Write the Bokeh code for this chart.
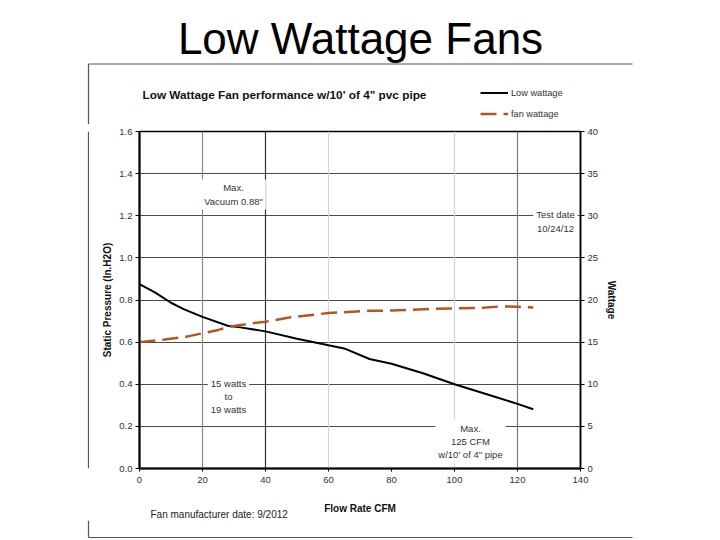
from bokeh.plotting import figure
from bokeh.layouts import column, row
from bokeh.models import (Range1d, LinearAxis, FixedTicker, Grid, Label, Legend,
                          LegendItem, NumeralTickFormatter, Title)
from bokeh.embed import file_html
from bokeh.resources import INLINE

# ---------------- data ----------------
flow_cfm = [0, 5, 10, 14, 20, 28, 32, 40, 50, 60, 65, 73, 80, 90, 100, 110, 120, 125]
static_pressure = [0.875, 0.835, 0.787, 0.757, 0.72, 0.678, 0.67, 0.651, 0.616, 0.585,
                   0.57, 0.52, 0.497, 0.452, 0.40, 0.354, 0.307, 0.281]

watt_cfm = [0, 8, 15, 20, 25, 29, 35, 40, 48, 60, 73, 80, 93, 100, 110, 115, 120, 125]
fan_wattage = [15.0, 15.3, 15.65, 16.05, 16.45, 16.85, 17.2, 17.43, 17.95, 18.45,
               18.72, 18.75, 18.94, 19.0, 19.1, 19.25, 19.2, 19.1]

x_ticks = [0, 20, 40, 60, 80, 100, 120, 140]
pressure_ticks = [0.0, 0.2, 0.4, 0.6, 0.8, 1.0, 1.2, 1.4, 1.6]
watt_ticks = [0, 5, 10, 15, 20, 25, 30, 35, 40]

slide_title = "Low Wattage Fans"
chart_title = "Low Wattage Fan performance w/10' of 4\" pvc pipe"
series_names = ["Low wattage", "fan wattage"]
x_label = "Flow Rate CFM"
y_label = "Static Pressure (In.H2O)"
y2_label = "Wattage"
note_texts = ["Max.\nVacuum 0.88\"", "Test date\n10/24/12", "15 watts\nto\n19 watts",
              "Max.\n125 CFM\nw/10' of 4\" pipe"]
footer = "Fan manufacturer date: 9/2012"

FONT = "Liberation Sans"
TXT = "#333333"
FRAME = "#555555"
BLACK_LINE = dict(line_color="black", line_width=2)
ORANGE_LINE = dict(line_color="#b4561f", line_width=2.5, line_dash="16 7")

# ---------------- page geometry (pixels) ----------------
PAGE_W = 716
HEAD_H = 124          # header band: slide title, chart title, legend
MID_H = 396           # chart band
FOOT_H = 18           # bottom frame line band
STRIP_W = 89          # left frame line strip
MAIN_W = PAGE_W - STRIP_W
PLOT_L, PLOT_R, PLOT_T, PLOT_B = 139, 580, 131, 468   # inner plot frame on the page


def deco_figure(w, h, top):
    """A figure whose frame is the whole canvas, with page-pixel data coordinates."""
    f = figure(width=w, height=h, x_range=Range1d(0, w), y_range=Range1d(top + h, top),
               output_backend="svg", toolbar_location=None,
               x_axis_location=None, y_axis_location=None, min_border=0)
    f.grid.visible = False
    f.outline_line_color = None
    f.background_fill_color = "white"
    f.border_fill_color = "white"
    return f


# ---------------- header ----------------
head = deco_figure(PAGE_W, HEAD_H, 0)
head.add_layout(Label(x=360, y=38, text=slide_title, text_align="center",
                      text_baseline="alphabetic", text_font=FONT, text_font_size="44px",
                      text_color="black"))
head.add_layout(Label(x=142, y=94, text=chart_title, text_align="left",
                      text_baseline="middle", text_font=FONT, text_font_size="11.8px",
                      text_font_style="bold", text_color="#111111"))
# legend keys: the series drawn on a range that keeps them out of sight in the header
head.extra_y_ranges = {"hidden": Range1d(1000, 2000)}
head.extra_x_ranges = {"hidden": Range1d(1000, 2000)}
lg1 = head.line(flow_cfm, static_pressure, x_range_name="hidden", y_range_name="hidden",
                **BLACK_LINE)
lg2 = head.line(watt_cfm, fan_wattage, x_range_name="hidden", y_range_name="hidden",
                **ORANGE_LINE)
head.add_layout(Legend(items=[LegendItem(label=series_names[0], renderers=[lg1]),
                              LegendItem(label=series_names[1], renderers=[lg2])],
                       location=(480, 4), orientation="vertical",
                       label_text_font=FONT, label_text_font_size="9.2px",
                       label_text_color=TXT, glyph_width=28, glyph_height=13, spacing=8,
                       padding=0, margin=0, label_standoff=3, border_line_color=None,
                       background_fill_alpha=0))
head.segment(x0=[88, 88], y0=[63.5, 63.5], x1=[632, 88], y1=[63.5, HEAD_H],
             line_color=FRAME, line_width=1.2)

# ---------------- left strip ----------------
strip = deco_figure(STRIP_W, MID_H, HEAD_H)
strip.segment(x0=[88], y0=[HEAD_H], x1=[88], y1=[HEAD_H + MID_H], line_color=FRAME,
              line_width=1.2)

# ---------------- bottom strip ----------------
foot = deco_figure(PAGE_W, FOOT_H, HEAD_H + MID_H)
foot.segment(x0=[88, 88], y0=[HEAD_H + MID_H, 537], x1=[88, 632], y1=[537, 537],
             line_color=FRAME, line_width=1.2)

# ---------------- main chart ----------------
BL = PLOT_L - STRIP_W
BT = PLOT_T - HEAD_H
FW = PLOT_R - PLOT_L
FH = PLOT_B - PLOT_T
BR = MAIN_W - BL - FW
BB = MID_H - BT - FH
X0, X1 = 0, 140
Y0, Y1 = 0, 1.6


def dx(sx):
    return X0 + (sx - PLOT_L) / FW * (X1 - X0)


def dy(sy):
    return Y0 + (PLOT_B - sy) / FH * (Y1 - Y0)


p = figure(width=MAIN_W, height=MID_H, x_range=Range1d(X0, X1), y_range=Range1d(Y0, Y1),
           output_backend="svg", toolbar_location=None,
           min_border_left=BL, min_border_right=BR, min_border_top=BT, min_border_bottom=BB,
           background_fill_color="white", border_fill_color="white")
p.extra_y_ranges = {"watt": Range1d(0, 40)}
p.outline_line_color = "black"
p.outline_line_width = 1.5

p.xgrid.grid_line_color = None
p.ygrid.ticker = FixedTicker(ticks=pressure_ticks)
p.ygrid.grid_line_color = "#4a4a4a"
p.ygrid.grid_line_width = 1
for tk, col in [(20, "#8a8a8a"), (40, "#333333"), (60, "#d4d4d4"), (100, "#d4d4d4"), (120, "#7a7a7a")]:
    p.add_layout(Grid(dimension=0, ticker=FixedTicker(ticks=[tk]), grid_line_color=col,
                      grid_line_width=1.2))

xa = p.xaxis[0]
xa.ticker = FixedTicker(ticks=x_ticks)
xa.axis_label = x_label
ya = p.yaxis[0]
ya.ticker = FixedTicker(ticks=pressure_ticks)
ya.formatter = NumeralTickFormatter(format="0.0")
ya.axis_label = y_label
ra = LinearAxis(y_range_name="watt", ticker=FixedTicker(ticks=watt_ticks), axis_label=y2_label)
p.add_layout(ra, "right")

for ax in (xa, ya, ra):
    ax.axis_line_color = "black"
    ax.axis_line_width = 2
    ax.major_tick_line_color = "black"
    ax.major_tick_in = 0
    ax.major_tick_out = 4
    ax.minor_tick_line_color = None
    ax.major_label_text_font = FONT
    ax.major_label_text_font_size = "9.5px"
    ax.major_label_text_color = TXT
    ax.major_label_standoff = 3
    ax.axis_label_text_font = FONT
    ax.axis_label_text_font_size = "10px"
    ax.axis_label_text_font_style = "bold"
    ax.axis_label_text_color = "#111111"
xa.major_tick_out = 3
xa.major_label_standoff = 5
xa.axis_label_standoff = 17
ya.axis_label_standoff = 3
ra.axis_label_standoff = 5
ra.axis_line_width = 1.5

p.line(flow_cfm, static_pressure, **BLACK_LINE)
p.line(watt_cfm, fan_wattage, y_range_name="watt", **ORANGE_LINE)

# footer text below the x axis
p.add_layout(Title(text=footer, text_font=FONT, text_font_size="10px",
                   text_font_style="normal", text_color="#222222", align="left", offset=11,
                   vertical_align="top", standoff=-16), "below")

# note boxes
note_pos = [(233, 194), (555, 221), (228, 396), (470, 441)]
for (cx, cy), txt in zip(note_pos, note_texts):
    p.add_layout(Label(x=dx(cx), y=dy(cy), text=txt, text_align="center",
                       text_baseline="middle", text_font=FONT, text_font_size="9.5px",
                       text_color=TXT, background_fill_color="white",
                       background_fill_alpha=1, padding=3))

layout = column(head, row(strip, p, spacing=0), foot, spacing=0)
open("out.html", "w").write(file_html(layout, INLINE))
